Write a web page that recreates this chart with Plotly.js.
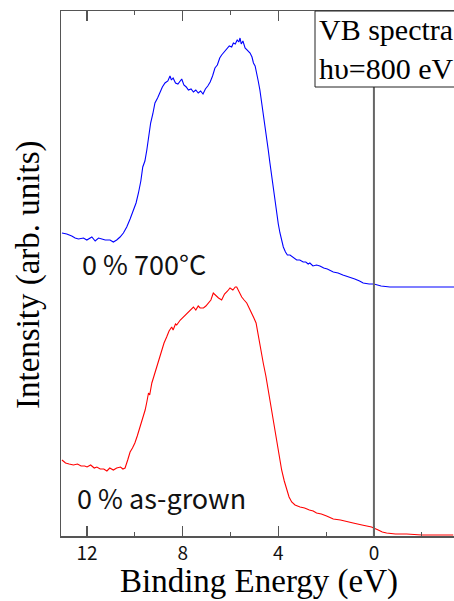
<!DOCTYPE html>
<html>
<head>
<meta charset="utf-8">
<script src="https://cdn.plot.ly/plotly-3.0.1.min.js"></script>
<style>html,body{margin:0;padding:0;background:#fff;}#chart{width:454px;height:601px;}</style>
</head>
<body>
<div id="chart"></div>
<script>
// Binding energy (eV) and intensity (arb. units)
const energyAnneal = [13.05,12.85,12.64,12.5,12.36,12.15,12.01,11.8,11.66,11.52,11.38,11.24,11.04,10.9,10.76,10.62,10.48,10.34,10.2,10.06,9.95,9.85,9.75,9.67,9.58,9.5,9.42,9.34,9.25,9.16,9.05,8.95,8.85,8.74,8.62,8.53,8.47,8.4,8.3,8.2,8.1,8.04,7.95,7.85,7.76,7.65,7.55,7.45,7.35,7.25,7.15,7.05,6.95,6.85,6.75,6.65,6.55,6.45,6.37,6.25,6.15,6.05,5.95,5.88,5.8,5.72,5.65,5.6,5.55,5.48,5.39,5.3,5.18,5.1,5.04,4.97,4.9,4.84,4.77,4.7,4.63,4.56,4.49,4.42,4.35,4.28,4.21,4.14,4.07,4.0,3.93,3.86,3.79,3.7,3.62,3.51,3.4,3.3,3.23,3.1,2.96,2.85,2.75,2.68,2.55,2.4,2.26,2.1,1.95,1.7,1.5,1.3,1.0,0.8,0.6,0.45,0.2,0.0,-0.3,-0.67,-1.0,-1.4,-1.78,-2.2,-2.6,-3.04,-3.35];
const intensityAnneal = [3.03,3.02,3.00,2.98,2.97,2.98,2.96,2.99,2.95,2.98,2.97,2.96,2.96,2.94,2.96,2.99,3.03,3.09,3.17,3.26,3.33,3.43,3.55,3.69,3.75,3.86,4.00,4.13,4.22,4.33,4.38,4.44,4.49,4.53,4.55,4.60,4.56,4.58,4.53,4.52,4.55,4.57,4.51,4.49,4.46,4.47,4.44,4.46,4.43,4.45,4.42,4.47,4.50,4.54,4.60,4.68,4.71,4.78,4.81,4.84,4.87,4.90,4.89,4.93,4.92,4.96,4.94,4.98,4.92,4.95,4.88,4.86,4.83,4.79,4.73,4.70,4.63,4.55,4.46,4.35,4.23,4.10,3.99,3.86,3.73,3.60,3.46,3.35,3.23,3.12,3.03,2.95,2.89,2.84,2.81,2.81,2.79,2.78,2.76,2.76,2.74,2.74,2.72,2.73,2.70,2.71,2.70,2.68,2.67,2.64,2.63,2.61,2.59,2.57,2.55,2.53,2.52,2.52,2.50,2.49,2.49,2.49,2.49,2.49,2.49,2.49,2.49];

const energyGrown = [13.05,12.9,12.75,12.57,12.4,12.25,12.1,12.0,11.85,11.7,11.59,11.45,11.3,11.17,11.05,10.9,10.76,10.6,10.5,10.41,10.3,10.2,10.1,10.0,9.9,9.78,9.68,9.57,9.5,9.43,9.38,9.29,9.2,9.08,8.98,8.88,8.78,8.67,8.57,8.46,8.4,8.3,8.25,8.1,7.97,7.85,7.7,7.55,7.45,7.35,7.27,7.13,7.03,6.93,6.82,6.72,6.6,6.5,6.37,6.25,6.12,6.02,5.9,5.8,5.74,5.65,5.58,5.53,5.43,5.32,5.22,5.11,5.02,4.93,4.86,4.79,4.71,4.63,4.52,4.42,4.35,4.28,4.17,4.07,3.96,3.86,3.75,3.65,3.55,3.44,3.3,3.09,2.9,2.7,2.54,2.4,2.2,1.98,1.7,1.4,1.1,0.87,0.5,0.1,-0.18,-0.35,-0.53,-0.9,-1.37,-2.0,-2.48,-3.32];
const intensityGrown = [0.76,0.73,0.72,0.71,0.72,0.70,0.70,0.69,0.71,0.68,0.69,0.67,0.67,0.65,0.68,0.66,0.68,0.69,0.67,0.68,0.76,0.84,0.88,0.93,1.00,1.09,1.17,1.26,1.34,1.43,1.41,1.53,1.60,1.69,1.77,1.86,1.93,1.99,2.05,2.09,2.06,2.12,2.11,2.16,2.19,2.22,2.25,2.29,2.26,2.30,2.28,2.28,2.30,2.33,2.36,2.43,2.40,2.38,2.36,2.42,2.45,2.48,2.46,2.49,2.49,2.45,2.41,2.39,2.36,2.33,2.28,2.23,2.18,2.13,2.03,1.93,1.83,1.73,1.60,1.46,1.35,1.23,1.08,0.93,0.78,0.66,0.55,0.46,0.39,0.34,0.31,0.29,0.28,0.26,0.25,0.23,0.22,0.20,0.17,0.16,0.14,0.13,0.11,0.09,0.06,0.04,0.03,0.02,0.02,0.01,0.01,0.01];

const majorTicks = [12, 8, 4, 0];
const minorTicks = [10, 6, 2, -2];
const tickLabels = ['12', '8', '4', '0'];
const labelAnneal = '0 % 700°C';
const labelGrown = '0 % as-grown';
const boxText = 'VB spectra<br>hυ=800 eV';

const traces = [
  {x: energyAnneal, y: intensityAnneal, mode: 'lines', line: {color: '#0000ff', width: 1.1}, hoverinfo: 'skip'},
  {x: energyGrown, y: intensityGrown, mode: 'lines', line: {color: '#ff0000', width: 1.1}, hoverinfo: 'skip'}
];

const W = 393, H = 525; // plot area size in px
const px = v => (v - 61) / W;
const py = v => (536 - v) / H;

const layout = {
  width: 454, height: 601,
  margin: {l: 61, r: 0, t: 11, b: 65},
  paper_bgcolor: '#fff', plot_bgcolor: '#fff',
  showlegend: false,
  xaxis: {
    range: [13.09, -3.35],
    tickmode: 'array', tickvals: majorTicks, ticktext: tickLabels,
    ticks: 'inside', ticklen: 10, tickwidth: 1.2, tickcolor: '#555',
    minor: {tickmode: 'array', tickvals: minorTicks, ticks: 'inside', ticklen: 4, tickwidth: 1.2, tickcolor: '#555'},
    showline: true, linecolor: '#555', linewidth: 1.5, mirror: 'ticks',
    showgrid: false, zeroline: false,
    tickfont: {family: '"Noto Sans CJK JP", "Noto Sans", sans-serif', size: 19, color: '#111'}
  },
  yaxis: {
    range: [0, 5.25],
    showticklabels: false, ticks: '',
    showline: true, linecolor: '#555', linewidth: 1.5, mirror: false,
    showgrid: false, zeroline: false
  },
  shapes: [
    {type: 'line', xref: 'x', yref: 'paper', x0: 0, x1: 0, y0: 0, y1: py(87), line: {color: '#666', width: 2}},
    {type: 'rect', xref: 'paper', yref: 'paper', x0: px(315), x1: px(470), y0: py(87), y1: 1, line: {color: '#222', width: 1}, fillcolor: '#fff', layer: 'above'}
  ],
  annotations: [
    {xref: 'paper', yref: 'paper', x: px(317), y: py(11), xanchor: 'left', yanchor: 'top', align: 'left', showarrow: false,
     text: boxText, font: {family: '"Liberation Serif", "DejaVu Serif", serif', size: 30, color: '#000'}},
    {xref: 'paper', yref: 'paper', x: px(80), y: py(263), xanchor: 'left', yanchor: 'middle', showarrow: false,
     text: labelAnneal, font: {family: '"Noto Sans CJK JP", sans-serif', size: 27, color: '#111'}},
    {xref: 'paper', yref: 'paper', x: px(75), y: py(497), xanchor: 'left', yanchor: 'middle', showarrow: false,
     text: labelGrown, font: {family: '"Noto Sans CJK JP", sans-serif', size: 27, color: '#111'}},
    {xref: 'paper', yref: 'paper', x: px(28), y: py(275), xanchor: 'center', yanchor: 'middle', showarrow: false, textangle: -90,
     text: 'Intensity (arb. units)', font: {family: '"Liberation Serif", serif', size: 33, color: '#000'}},
    {xref: 'paper', yref: 'paper', x: px(259), y: py(581), xanchor: 'center', yanchor: 'middle', showarrow: false,
     text: 'Binding Energy (eV)', font: {family: '"Liberation Serif", serif', size: 33, color: '#000'}}
  ]
};

Plotly.newPlot('chart', traces, layout, {staticPlot: true, displayModeBar: false});
</script>
</body>
</html>
